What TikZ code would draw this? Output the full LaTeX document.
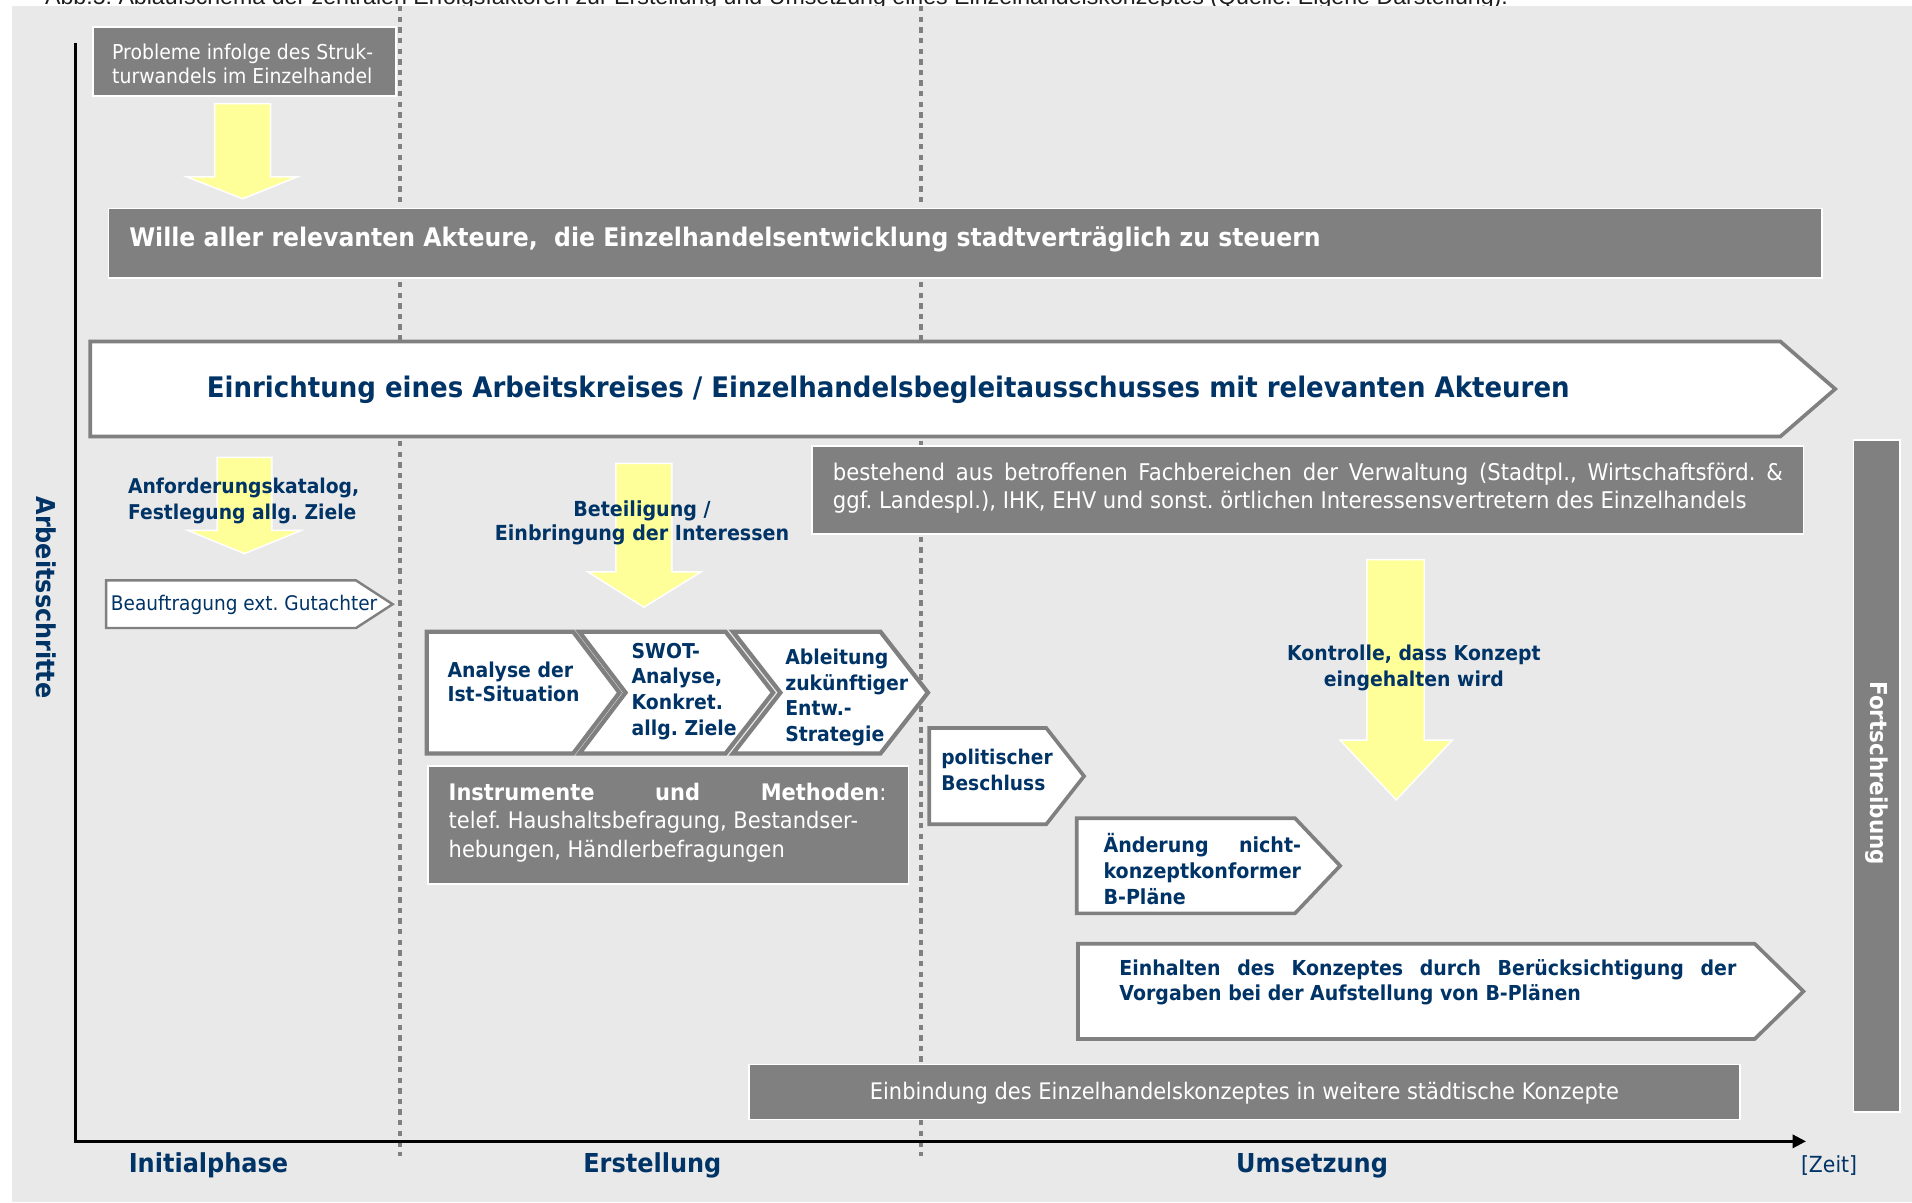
\documentclass[tikz,border=0pt]{standalone}
\usepackage{fontspec}
\setmainfont{DejaVu Sans}[FakeStretch=0.92]
\newfontfamily\capfont{Liberation Sans}
\usetikzlibrary{arrows.meta}
\definecolor{navy}{RGB}{0,51,102}
\definecolor{boxgray}{RGB}{128,128,128}
\definecolor{panel}{RGB}{233,233,233}
\definecolor{ylw}{RGB}{255,255,153}
\definecolor{capcol}{RGB}{30,30,30}
\newcommand{\fs}[2]{\fontsize{#1}{#2}\selectfont}
\frenchspacing
\begin{document}
\begin{tikzpicture}[x=1pt,y=-1pt,
  graybox/.style={fill=boxgray,draw=white,line width=1.5pt},
  whitearrow/.style={fill=white,draw=boxgray,line width=3pt,line join=miter},
  yarrow/.style={fill=ylw,draw=white,line width=1.2pt},
  dotline/.style={draw=boxgray,line width=3.5pt,dash pattern=on 4.4pt off 4.3pt},
  tx/.style={inner sep=0pt,outer sep=0pt,align=left},
  nb/.style={tx,text=navy,font=\bfseries},
  wt/.style={tx,text=white}]
\useasboundingbox (0,0) rectangle (1568,986);
\clip (0,0) rectangle (1568,986);
% caption (clipped at top, as in the reference)
\node[tx,anchor=base west,text=capcol,font=\capfont\fs{19}{19}] (caption) at (37,4)
  {Abb.5: Ablaufschema der zentralen Erfolgsfaktoren zur Erstellung und Umsetzung eines Einzelhandelskonzeptes (Quelle: Eigene Darstellung).};
% panel
\fill[panel] (10,5) rectangle (1568,986);
% dotted phase separators
\coordinate (d1t) at (328,5);  \coordinate (d1b) at (328,948);
\coordinate (d2t) at (755,5);  \coordinate (d2b) at (755,948);
\draw[dotline] (d1t) -- (d1b);
\draw[dotline] (d2t) -- (d2b);
% axes
\coordinate (ytop) at (62,35);
\coordinate (origin) at (62,936);
\coordinate (xend) at (1481,936);
\draw[line width=2pt,-{Triangle[length=11pt,width=11pt]}] (ytop) -- (origin) -- (xend);
% yellow arrows
\draw[yarrow] (176,85) -- (222,85) -- (222,145) -- (244,145) -- (199,163) -- (153,145) -- (176,145) -- cycle;
\draw[yarrow] (178,375) -- (223,375) -- (223,435) -- (247,435) -- (200.5,454) -- (154,435) -- (178,435) -- cycle;
\draw[yarrow] (505,380) -- (551,380) -- (551,469) -- (575,469) -- (528,498) -- (482,469) -- (505,469) -- cycle;
\draw[yarrow] (1121,459) -- (1168,459) -- (1168,607) -- (1191,607) -- (1145,656) -- (1099,607) -- (1121,607) -- cycle;
% gray boxes
\draw[graybox] (76,22) rectangle (325,79);
\draw[graybox] (89,171) rectangle (1494,228);
\draw[graybox] (666,366) rectangle (1479,438);
\draw[graybox] (351,628) rectangle (745,725);
\draw[graybox] (614,873) rectangle (1427,918);
\draw[graybox] (1520,361) rectangle (1558,912);
% white arrow shapes
\draw[whitearrow] (74,280) -- (1460,280) -- (1505,319) -- (1460,358) -- (74,358) -- cycle;
\draw[whitearrow,line width=2pt] (87,476) -- (292,476) -- (322,495.5) -- (292,515) -- (87,515) -- cycle;
\draw[whitearrow,line width=3.5pt] (350,518) -- (470,518) -- (508,568) -- (470,618) -- (350,618) -- cycle;
\draw[whitearrow,line width=3.5pt] (475,518) -- (595,518) -- (634,568) -- (595,618) -- (475,618) -- (513,568) -- cycle;
\draw[whitearrow,line width=3.5pt] (601,518) -- (722,518) -- (761,568) -- (722,618) -- (601,618) -- (640,568) -- cycle;
\draw[whitearrow] (762,597) -- (858,597) -- (889,636.5) -- (858,676) -- (762,676) -- cycle;
\draw[whitearrow] (883,671) -- (1062,671) -- (1099,710) -- (1062,749) -- (883,749) -- cycle;
\draw[whitearrow] (884,774) -- (1439,774) -- (1479,813) -- (1439,852) -- (884,852) -- cycle;
% texts
\node[wt,anchor=west,font=\fs{16.8}{20}] (probleme) at (92,52.5) {Probleme infolge des Struk-\\turwandels im Einzelhandel};
\node[wt,anchor=west,font=\bfseries\fs{21}{24}] (wille) at (106,196) {Wille aller relevanten Akteure,\ \ die Einzelhandelsentwicklung stadtverträglich zu steuern};
\node[nb,anchor=center,font=\bfseries\fs{23.2}{26}] (einrichtung) at (728.5,320) {Einrichtung eines Arbeitskreises / Einzelhandelsbegleitausschusses mit relevanten Akteuren};
\node[nb,anchor=west,font=\bfseries\fs{16.7}{21}] (anford) at (105,411) {Anforderungskatalog,\\Festlegung allg. Ziele};
\node[tx,text=navy,anchor=west,font=\fs{16.5}{20}] (beauftr) at (91,496) {Beauftragung ext. Gutachter};
\node[nb,align=center,anchor=center,font=\bfseries\fs{17}{20}] (beteil) at (526.5,429) {Beteiligung /\\Einbringung der Interessen};
\node[nb,anchor=west,font=\bfseries\fs{16.8}{20}] (analyse) at (367,559) {Analyse der\\Ist-Situation};
\node[nb,anchor=west,font=\bfseries\fs{16.8}{21}] (swot) at (518,567) {SWOT-\\Analyse,\\Konkret.\\allg. Ziele};
\node[nb,anchor=west,font=\bfseries\fs{16.8}{21}] (ableit) at (644,572) {Ableitung\\zukünftiger\\Entw.-\\Strategie};
\node[wt,anchor=west,font=\fs{18.7}{23.5}] (instr) at (368,674.5) {\makebox[359pt][s]{\bfseries Instrumente und Methoden\mdseries:}\\telef. Haushaltsbefragung, Bestandser-\\hebungen, Händlerbefragungen};
\node[wt,anchor=west,font=\fs{18.9}{23}] (bestehend) at (683,400.5) {\makebox[779pt][s]{bestehend aus betroffenen Fachbereichen der Verwaltung (Stadtpl., Wirtschaftsförd. \&}\\ggf. Landespl.), IHK, EHV und sonst. örtlichen Interessensvertretern des Einzelhandels};
\node[nb,align=center,anchor=center,font=\bfseries\fs{16.8}{21}] (kontrolle) at (1159.5,547.5) {Kontrolle, dass Konzept\\eingehalten wird};
\node[nb,anchor=west,font=\bfseries\fs{16.6}{21}] (polit) at (772,631.5) {politischer\\Beschluss};
\node[nb,anchor=west,font=\bfseries\fs{17}{21.5}] (aender) at (905,712.5) {\makebox[162pt][s]{Änderung nicht-}\\konzeptkonformer\\B-Pläne};
\node[nb,anchor=west,font=\bfseries\fs{16.9}{21}] (einhalt) at (918,805.5) {\makebox[506pt][s]{Einhalten des Konzeptes durch Berücksichtigung der}\\Vorgaben bei der Aufstellung von B-Plänen};
\node[wt,anchor=center,font=\fs{18.7}{22}] (einbind) at (1020.5,896.5) {Einbindung des Einzelhandelskonzeptes in weitere städtische Konzepte};
\node[wt,anchor=center,rotate=-90,font=\bfseries\fs{19.1}{22}] (fortschr) at (1539,634) {Fortschreibung};
\node[nb,anchor=center,rotate=-90,font=\bfseries\fs{21.3}{24}] (arbeit) at (38,490) {Arbeitsschritte};
\node[nb,anchor=center,font=\bfseries\fs{21.4}{24}] (initial) at (171,956) {Initialphase};
\node[nb,anchor=center,font=\bfseries\fs{21.4}{24}] (erstell) at (535,956) {Erstellung};
\node[nb,anchor=center,font=\bfseries\fs{21.4}{24}] (umsetz) at (1076,956) {Umsetzung};
\node[tx,text=navy,anchor=center,font=\fs{18.2}{20}] (zeit) at (1500,955.5) {[Zeit]};
\end{tikzpicture}
\end{document}
